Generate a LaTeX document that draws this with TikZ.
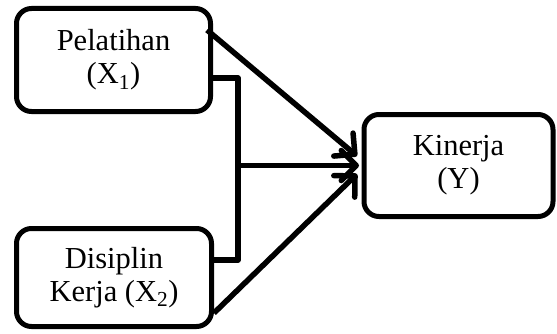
\documentclass[tikz,border=0pt]{standalone}
\usepackage{fontspec}
\setmainfont{Liberation Serif}
\usetikzlibrary{arrows.meta}
\tikzset{
  box/.style={draw, line width=5pt, rounded corners=15pt, inner sep=0pt,
    align=center, font=\fontsize{30.5}{33}\selectfont},
  link/.style={line width=5.5pt, line join=round,
    preaction={draw=black!22, line width=5.5pt,
      transform canvas={shift={(1.5pt,-2pt)}}}},
  tip/.style={-{Straight Barb[length=15pt, width=30pt, round]}}
}
\begin{document}
\begin{tikzpicture}[x=1pt, y=1pt]
  \useasboundingbox (0,0) rectangle (557,333);
  \draw
    (113.5,273) node[box, minimum width=194pt, minimum height=103pt] (X1){Pelatihan\\(X\textsubscript{1})}
    (114,55.5) node[box, minimum width=195pt, minimum height=98pt] (X2){Disiplin\\Kerja (X\textsubscript{2})}
    (458.5,167.5) node[box, minimum width=189pt, minimum height=102pt] (Y){Kinerja\\(Y)};
  \coordinate (a1) at (207,303);
  \coordinate (a2) at (214,20);
  \coordinate (b1) at (238,255);
  \coordinate (b2) at (238,73);
  \coordinate (bm) at (238,167.5);
  \coordinate (t1) at (357,177);
  \coordinate (t2) at (359,167.5);
  \coordinate (t3) at (357,159);
  \begin{scope}[link]
    \draw[tip] (a1) to (t1);
    \draw (X1.east |- b1) -- (b1) -- (b2) -- (X2.east |- b2);
    \draw[tip] (bm) to (t2);
    \draw[tip] (a2) to (t3);
  \end{scope}
\end{tikzpicture}
\end{document}
